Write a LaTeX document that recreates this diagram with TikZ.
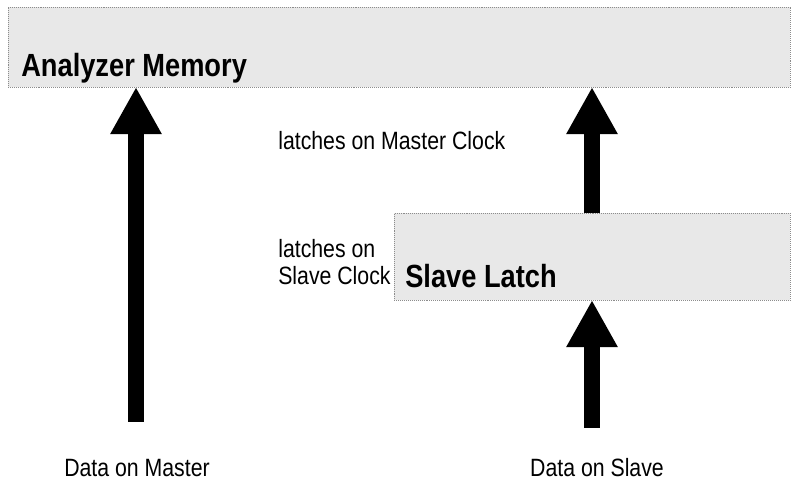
\documentclass[tikz,border=0pt]{standalone}
\usepackage{fontspec}
\setmainfont{Liberation Sans}[FakeStretch=0.85]
\usetikzlibrary{arrows.meta}
\begin{document}
\begin{tikzpicture}[x=0.025cm,y=-0.025cm,
  regbox/.style={draw=black!45,densely dotted,fill=black!9,inner sep=0pt,outer sep=0pt,anchor=north west},
  fat/.style={line width=0.4cm,-{Triangle[length=1.175cm,width=1.2cm]}},
  lbl/.style={font=\fontsize{17.8}{19.2}\selectfont,inner sep=0pt},
  heading/.style={font=\bfseries\fontsize{22.8}{24}\selectfont,inner sep=0pt}]
\useasboundingbox (0,0) rectangle (791,484);
\node[regbox,minimum width=19.55cm,minimum height=2cm] (mem) at (8,7) {};
\node[regbox,minimum width=9.9cm,minimum height=2.175cm] (latch) at (394,213) {};
\node[heading,anchor=base west] (memtxt) at (21,77) {Analyzer Memory};
\node[heading,anchor=base west] (latchtxt) at (405,288) {Slave Latch};
\node[lbl,anchor=base west] (mclk) at (278,150) {latches on Master Clock};
\node[lbl,anchor=base west,align=left] (sclk) at (278,285) {latches on\\Slave Clock};
\node[lbl,anchor=base] (mdata) at (137,477) {Data on Master};
\node[lbl,anchor=base] (sdata) at (597,477) {Data on Slave};
\coordinate (mfoot) at (136,422);
\coordinate (sfoot) at (592,428);
\draw[fat] (mfoot) -- (mfoot |- mem.south);
\draw[fat] (latch.north -| sfoot) -- (sfoot |- mem.south);
\draw[fat] (sfoot) -- (sfoot |- latch.south);
\end{tikzpicture}
\end{document}
